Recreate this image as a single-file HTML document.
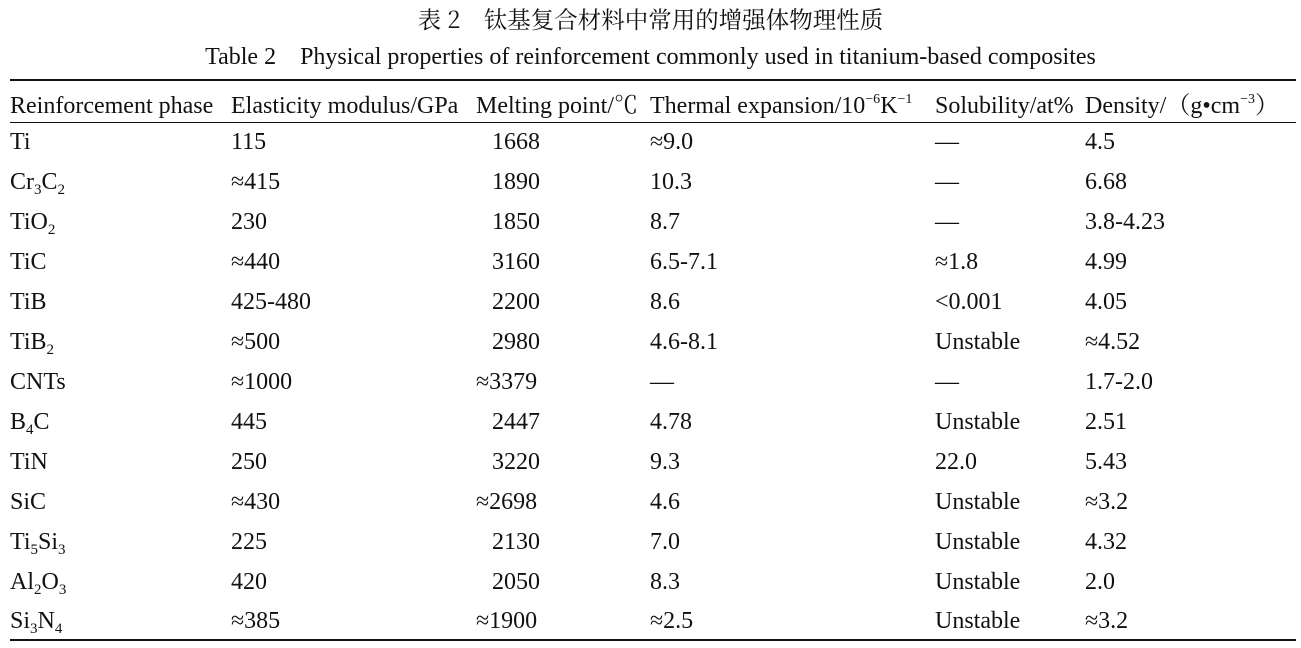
<!DOCTYPE html>
<html><head><meta charset="utf-8"><style>
body{margin:0;width:1301px;height:648px;background:#fff;position:relative;overflow:hidden;font-family:"Liberation Serif","Noto Serif CJK SC",serif;color:#111;font-size:24px}
.t{position:absolute;white-space:nowrap;line-height:26px}
.c{position:absolute;left:0;width:1301px;text-align:center;line-height:26px}
.r{position:absolute;left:10px;width:1286px;background:#111}
sub{font-size:15px;vertical-align:-5px;line-height:0}
sup{font-size:14px;vertical-align:10px;line-height:0}
</style></head><body>
<div class="c" style="top:5px;font-size:23.5px;font-family:'Noto Serif CJK SC','Liberation Serif',serif">表 2　钛基复合材料中常用的增强体物理性质</div>
<div class="c" style="top:44px">Table 2&nbsp;&nbsp;&nbsp;&nbsp;Physical properties of reinforcement commonly used in titanium-based composites</div>
<div class="r" style="top:79px;height:2px"></div>
<div class="r" style="top:122px;height:1px"></div>
<div class="r" style="top:639px;height:2px"></div>
<div class="t" style="left:10px;top:93px">Reinforcement phase</div>
<div class="t" style="left:231px;top:93px">Elasticity modulus/GPa</div>
<div class="t" style="left:476px;top:93px">Melting point/℃</div>
<div class="t" style="left:650px;top:93px">Thermal expansion/10<sup>−6</sup>K<sup>−1</sup></div>
<div class="t" style="left:935px;top:93px">Solubility/at%</div>
<div class="t" style="left:1085px;top:93px">Density/（g•cm<sup>−3</sup>）</div>

<div class="t" style="left:10px;top:129px">Ti</div><div class="t" style="left:231px;top:129px">115</div><div class="t" style="left:492px;top:129px">1668</div><div class="t" style="left:650px;top:129px">≈9.0</div><div class="t" style="left:935px;top:129px">—</div><div class="t" style="left:1085px;top:129px">4.5</div>
<div class="t" style="left:10px;top:169px">Cr<sub>3</sub>C<sub>2</sub></div><div class="t" style="left:231px;top:169px">≈415</div><div class="t" style="left:492px;top:169px">1890</div><div class="t" style="left:650px;top:169px">10.3</div><div class="t" style="left:935px;top:169px">—</div><div class="t" style="left:1085px;top:169px">6.68</div>
<div class="t" style="left:10px;top:209px">TiO<sub>2</sub></div><div class="t" style="left:231px;top:209px">230</div><div class="t" style="left:492px;top:209px">1850</div><div class="t" style="left:650px;top:209px">8.7</div><div class="t" style="left:935px;top:209px">—</div><div class="t" style="left:1085px;top:209px">3.8-4.23</div>
<div class="t" style="left:10px;top:249px">TiC</div><div class="t" style="left:231px;top:249px">≈440</div><div class="t" style="left:492px;top:249px">3160</div><div class="t" style="left:650px;top:249px">6.5-7.1</div><div class="t" style="left:935px;top:249px">≈1.8</div><div class="t" style="left:1085px;top:249px">4.99</div>
<div class="t" style="left:10px;top:289px">TiB</div><div class="t" style="left:231px;top:289px">425-480</div><div class="t" style="left:492px;top:289px">2200</div><div class="t" style="left:650px;top:289px">8.6</div><div class="t" style="left:935px;top:289px">&lt;0.001</div><div class="t" style="left:1085px;top:289px">4.05</div>
<div class="t" style="left:10px;top:329px">TiB<sub>2</sub></div><div class="t" style="left:231px;top:329px">≈500</div><div class="t" style="left:492px;top:329px">2980</div><div class="t" style="left:650px;top:329px">4.6-8.1</div><div class="t" style="left:935px;top:329px">Unstable</div><div class="t" style="left:1085px;top:329px">≈4.52</div>
<div class="t" style="left:10px;top:369px">CNTs</div><div class="t" style="left:231px;top:369px">≈1000</div><div class="t" style="left:476px;top:369px">≈3379</div><div class="t" style="left:650px;top:369px">—</div><div class="t" style="left:935px;top:369px">—</div><div class="t" style="left:1085px;top:369px">1.7-2.0</div>
<div class="t" style="left:10px;top:409px">B<sub>4</sub>C</div><div class="t" style="left:231px;top:409px">445</div><div class="t" style="left:492px;top:409px">2447</div><div class="t" style="left:650px;top:409px">4.78</div><div class="t" style="left:935px;top:409px">Unstable</div><div class="t" style="left:1085px;top:409px">2.51</div>
<div class="t" style="left:10px;top:449px">TiN</div><div class="t" style="left:231px;top:449px">250</div><div class="t" style="left:492px;top:449px">3220</div><div class="t" style="left:650px;top:449px">9.3</div><div class="t" style="left:935px;top:449px">22.0</div><div class="t" style="left:1085px;top:449px">5.43</div>
<div class="t" style="left:10px;top:489px">SiC</div><div class="t" style="left:231px;top:489px">≈430</div><div class="t" style="left:476px;top:489px">≈2698</div><div class="t" style="left:650px;top:489px">4.6</div><div class="t" style="left:935px;top:489px">Unstable</div><div class="t" style="left:1085px;top:489px">≈3.2</div>
<div class="t" style="left:10px;top:529px">Ti<sub>5</sub>Si<sub>3</sub></div><div class="t" style="left:231px;top:529px">225</div><div class="t" style="left:492px;top:529px">2130</div><div class="t" style="left:650px;top:529px">7.0</div><div class="t" style="left:935px;top:529px">Unstable</div><div class="t" style="left:1085px;top:529px">4.32</div>
<div class="t" style="left:10px;top:569px">Al<sub>2</sub>O<sub>3</sub></div><div class="t" style="left:231px;top:569px">420</div><div class="t" style="left:492px;top:569px">2050</div><div class="t" style="left:650px;top:569px">8.3</div><div class="t" style="left:935px;top:569px">Unstable</div><div class="t" style="left:1085px;top:569px">2.0</div>
<div class="t" style="left:10px;top:608px">Si<sub>3</sub>N<sub>4</sub></div><div class="t" style="left:231px;top:608px">≈385</div><div class="t" style="left:476px;top:608px">≈1900</div><div class="t" style="left:650px;top:608px">≈2.5</div><div class="t" style="left:935px;top:608px">Unstable</div><div class="t" style="left:1085px;top:608px">≈3.2</div>
</body></html>
